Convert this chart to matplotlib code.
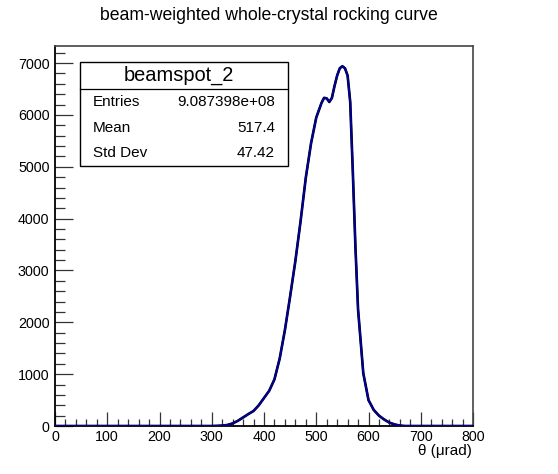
import matplotlib
matplotlib.use("Agg")
import matplotlib.pyplot as plt
from matplotlib.patches import Rectangle
from matplotlib.lines import Line2D
from matplotlib.ticker import MultipleLocator

plt.rcParams['font.family'] = ['Liberation Sans', 'DejaVu Sans']

# rocking curve (theta in microrad, counts per bin)
theta = [0, 300, 310, 320, 330, 340, 350, 360, 370, 380, 390, 400, 410, 420,
         430, 440, 450, 460, 470, 480, 490, 500, 510, 515, 520, 525, 530,
         535, 540, 545, 550, 555, 560, 565, 570, 575, 580, 590, 600, 610,
         620, 630, 640, 650, 660, 670, 800]
counts = [0, 0, 3, 8, 20, 50, 100, 165, 230, 290, 400, 540, 680, 900,
          1300, 1850, 2500, 3180, 3950, 4790, 5450, 5950, 6230, 6330, 6320, 6250, 6330,
          6560, 6760, 6900, 6940, 6900, 6760, 6250, 4900, 3450, 2250, 1020, 500, 310,
          200, 125, 65, 30, 8, 0, 0]

hist_name = "beamspot_2"
stats_labels = ["Entries", "Mean", "Std Dev"]
stats_values = ["9.087398e+08", "517.4", "47.42"]

W, H = 558, 474
fig = plt.figure(figsize=(W / 100, H / 100), dpi=100)
ax = fig.add_axes([55 / W, 1 - 426 / H, (473 - 55) / W, (426 - 46) / H])

ax.plot(theta, counts, color='black', lw=1.9, zorder=3)
ax.plot(theta, counts, color='#000099', lw=1.4, zorder=4)

ax.set_xlim(0, 800)
ax.set_ylim(0, 7330)
ax.xaxis.set_major_locator(MultipleLocator(100))
ax.xaxis.set_minor_locator(MultipleLocator(20))
ax.yaxis.set_major_locator(MultipleLocator(1000))
ax.yaxis.set_minor_locator(MultipleLocator(200))
ax.tick_params(axis='both', which='both', direction='in', labelsize=10.3,
               top=False, right=False, width=0.9, color='#333333')
ax.tick_params(axis='x', which='major', length=10, pad=3)
ax.tick_params(axis='x', which='minor', length=5)
ax.tick_params(axis='y', which='major', length=13, pad=4)
ax.tick_params(axis='y', which='minor', length=7)
for side in ['top', 'right']:
    ax.spines[side].set_color('#444444')
    ax.spines[side].set_linewidth(1.2)
for side in ['left', 'bottom']:
    ax.spines[side].set_linewidth(1.3)

fig.text(269 / W, 1 - 16 / H, "beam-weighted whole-crystal rocking curve",
         ha='center', va='center', fontsize=12.7)
fig.text(472 / W, 1 - 451 / H, "θ (μrad)", ha='right', va='center', fontsize=11)

# stats box
x0, x1 = 80 / W, 288 / W
y0, y1 = 1 - 166 / H, 1 - 62 / H
ydiv = 1 - 89 / H
fig.patches.append(Rectangle((x0, y0), x1 - x0, y1 - y0, transform=fig.transFigure,
                             facecolor='white', edgecolor='black', lw=1.0, zorder=10))
fig.lines.append(Line2D([x0, x1], [ydiv, ydiv], transform=fig.transFigure,
                        color='black', lw=0.9, zorder=11))
fig.text(179 / W, 1 - 75 / H, hist_name, ha='center', va='center',
         fontsize=14.4, zorder=12)
rows_y = [101.7, 128.3, 153.3]
for lab, val, yy in zip(stats_labels, stats_values, rows_y):
    fig.text(92.7 / W, 1 - yy / H, lab, ha='left', va='center', fontsize=11, zorder=12)
    fig.text(275 / W, 1 - yy / H, val, ha='right', va='center', fontsize=11, zorder=12)

fig.savefig("out.png", dpi=100)
